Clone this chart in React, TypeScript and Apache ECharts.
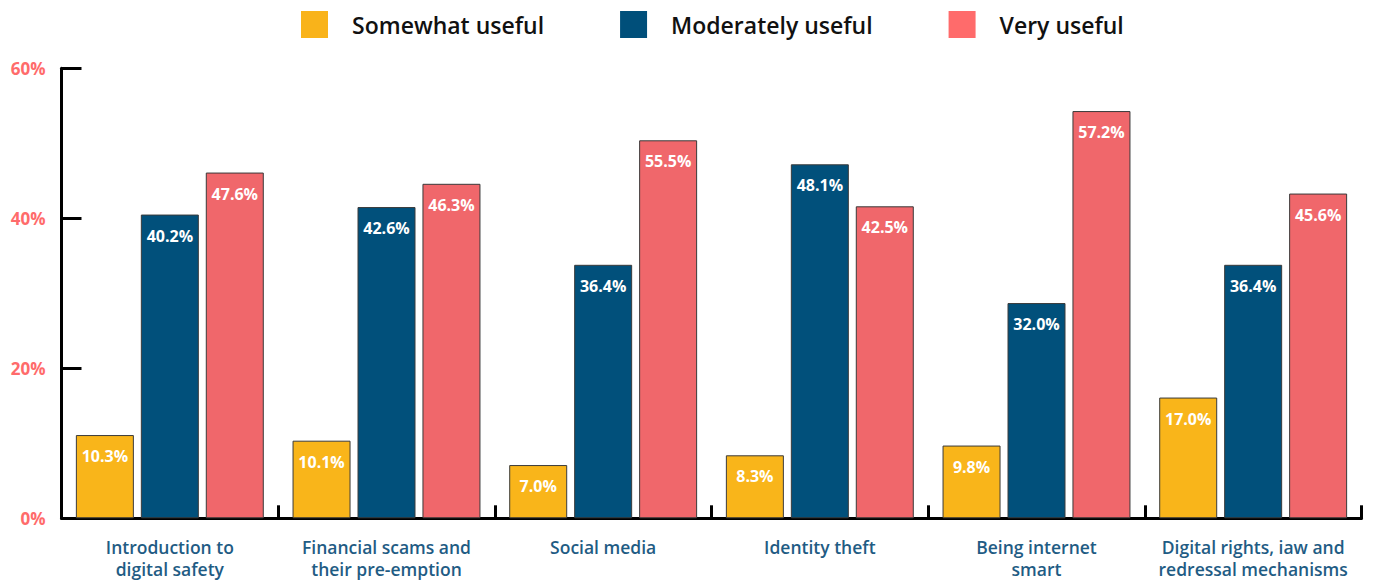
import React, { useEffect, useRef } from "react";
import * as echarts from "echarts";

const categories = [
  "Introduction to\ndigital safety",
  "Financial scams and\ntheir pre-emption",
  "Social media",
  "Identity theft",
  "Being internet\nsmart",
  "Digital rights, iaw and\nredressal mechanisms",
];

const seriesNames = ["Somewhat useful", "Moderately useful", "Very useful"];

// bar heights as drawn in the picture (%)
const somewhatValues = [11.1, 10.35, 7.1, 8.4, 9.7, 16.1];
const moderatelyValues = [40.5, 41.5, 33.8, 47.2, 28.7, 33.8];
const veryValues = [46.1, 44.6, 50.4, 41.6, 54.3, 43.3];

// labels printed on the bars
const somewhatLabels = ["10.3%", "10.1%", "7.0%", "8.3%", "9.8%", "17.0%"];
const moderatelyLabels = ["40.2%", "42.6%", "36.4%", "48.1%", "32.0%", "36.4%"];
const veryLabels = ["47.6%", "46.3%", "55.5%", "42.5%", "57.2%", "45.6%"];

const yTicks = [0, 20, 40, 60];

const barColors = ["#F9B51A", "#01507B", "#F0676B"];
const legendColors = ["#F9B31A", "#004F7A", "#FF6B6B"];

const FONT = "'Open Sans', 'Noto Sans', sans-serif";

export default function App() {
  const ref = useRef<HTMLDivElement>(null);

  useEffect(() => {
    if (!ref.current) return;
    const chart = echarts.init(ref.current, undefined, { renderer: "svg" });
    const values = [somewhatValues, moderatelyValues, veryValues];
    const labels = [somewhatLabels, moderatelyLabels, veryLabels];

    chart.setOption({
      animation: false,
      backgroundColor: "#ffffff",
      legend: {
        left: 296,
        top: 6,
        itemWidth: 27,
        itemHeight: 27,
        itemGap: 76,
        icon: "rect",
        data: seriesNames.map((n, i) => ({
          name: n,
          itemStyle: { color: legendColors[i], borderWidth: 0 },
        })),
        textStyle: {
          fontFamily: FONT,
          fontSize: 23,
          fontWeight: 600,
          color: "#111111",
          padding: [0, 0, 0, 19],
        },
      },
      grid: {
        left: 61.5,
        right: 17.5,
        top: 68.3,
        bottom: 64.7,
        containLabel: false,
      },
      xAxis: {
        type: "category",
        data: categories,
        boundaryGap: true,
        axisLine: { show: true, lineStyle: { color: "#000", width: 3 } },
        axisTick: {
          show: true,
          inside: true,
          length: 13,
          lineStyle: { color: "#000", width: 3 },
        },
        axisLabel: {
          interval: 0,
          margin: 18,
          fontFamily: FONT,
          fontSize: 17.5,
          fontWeight: 600,
          lineHeight: 22,
          color: "#1F5C84",
        },
        splitLine: { show: false },
      },
      yAxis: {
        type: "value",
        min: yTicks[0],
        max: yTicks[yTicks.length - 1],
        interval: 20,
        axisLine: { show: true, lineStyle: { color: "#000", width: 3 } },
        axisTick: {
          show: true,
          inside: true,
          length: 20,
          lineStyle: { color: "#000", width: 3 },
        },
        axisLabel: {
          formatter: "{value}%",
          margin: 16,
          fontFamily: FONT,
          fontSize: 17,
          fontWeight: 700,
          color: "#FF6B6B",
          padding: [6, 0, 0, 0],
        },
        splitLine: { show: false },
      },
      series: seriesNames.map((name, si) => ({
        name,
        type: "bar",
        data: values[si],
        barWidth: 58,
        barGap: "12%",
        itemStyle: {
          color: barColors[si],
          borderColor: "#3a3a3a",
          borderWidth: 1,
        },
        label: {
          show: true,
          position: "insideTop",
          distance: 13,
          formatter: (p: any) => labels[si][p.dataIndex],
          fontFamily: FONT,
          fontSize: 16,
          fontWeight: 700,
          color: "#ffffff",
        },
      })),
    });

    return () => chart.dispose();
  }, []);

  return (
    <div
      ref={ref}
      style={{ position: "absolute", left: 0, top: 0, width: 1379, height: 583 }}
    />
  );
}
